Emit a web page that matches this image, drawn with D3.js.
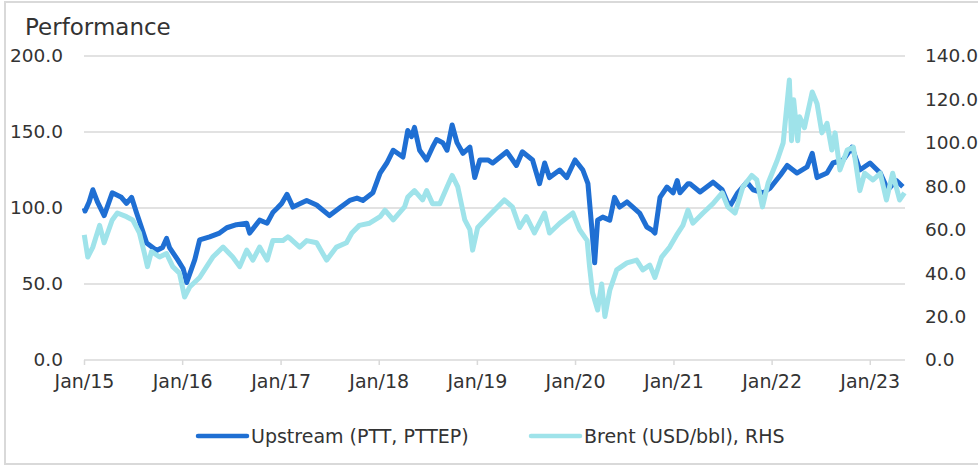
<!DOCTYPE html>
<html>
<head>
<meta charset="utf-8">
<script src="https://cdn.jsdelivr.net/npm/d3@7"></script>
<style>
    body { margin: 0; background: #fff; }
    #chart { width: 978px; height: 468px; }
    text { font-family: "DejaVu Sans", sans-serif; fill: #333; }
</style>
</head>
<body>
<div id="chart"></div>
<script>
var upstreamData = [
    ["2015-01-02", 100], ["2015-01-05", 98], ["2015-01-20", 104], ["2015-02-03", 112], ["2015-02-20", 104],
    ["2015-03-17", 95], ["2015-04-16", 110], ["2015-05-20", 107], ["2015-06-08", 103], ["2015-06-27", 107],
    ["2015-07-15", 97], ["2015-08-07", 85], ["2015-08-22", 77], ["2015-09-28", 72], ["2015-10-20", 74],
    ["2015-11-04", 80], ["2015-11-15", 74], ["2015-12-15", 66], ["2016-01-05", 60], ["2016-01-18", 51],
    ["2016-02-17", 66], ["2016-03-06", 79], ["2016-04-12", 81], ["2016-05-19", 83.5], ["2016-06-15", 87],
    ["2016-07-21", 89], ["2016-08-28", 90], ["2016-09-08", 83.5], ["2016-10-15", 92], ["2016-11-12", 90],
    ["2016-12-03", 97], ["2016-12-20", 100], ["2017-01-05", 103], ["2017-01-25", 109], ["2017-02-16", 100.6],
    ["2017-04-08", 105], ["2017-05-15", 102], ["2017-07-02", 95], ["2017-08-08", 100], ["2017-09-15", 105],
    ["2017-10-12", 106.5], ["2017-11-03", 105], ["2017-12-10", 110], ["2018-01-06", 123], ["2018-01-31", 129.6],
    ["2018-02-24", 138], ["2018-04-01", 133.5], ["2018-04-19", 151], ["2018-05-03", 147], ["2018-05-14", 153],
    ["2018-06-02", 138], ["2018-06-28", 131.6], ["2018-07-20", 140], ["2018-08-04", 145], ["2018-08-27", 143],
    ["2018-09-12", 138], ["2018-10-01", 154.6], ["2018-10-19", 143], ["2018-11-10", 136], ["2018-12-06", 140],
    ["2018-12-24", 120], ["2019-01-12", 131.6], ["2019-02-11", 131.6], ["2019-03-01", 129.6], ["2019-04-22", 137],
    ["2019-05-28", 128], ["2019-06-19", 137], ["2019-07-27", 131.6], ["2019-08-22", 116], ["2019-09-10", 129.6],
    ["2019-09-28", 120], ["2019-11-05", 125], ["2019-12-01", 120], ["2020-01-01", 131.6], ["2020-01-30", 125],
    ["2020-02-18", 116], ["2020-03-03", 87.5], ["2020-03-14", 64], ["2020-03-25", 92], ["2020-04-13", 94],
    ["2020-05-09", 92], ["2020-05-27", 107], ["2020-06-15", 100.6], ["2020-07-12", 104], ["2020-08-03", 100.6],
    ["2020-08-28", 96.7], ["2020-09-24", 87.5], ["2020-10-13", 85.5], ["2020-10-24", 83.5], ["2020-11-12", 107],
    ["2020-12-08", 113.8], ["2020-12-31", 110], ["2021-01-15", 118], ["2021-01-25", 110], ["2021-02-24", 116],
    ["2021-03-03", 116], ["2021-04-10", 110.5], ["2021-05-28", 117], ["2021-07-01", 112], ["2021-07-28", 100.6],
    ["2021-08-28", 110], ["2021-10-01", 117], ["2021-10-24", 112], ["2021-12-01", 110], ["2021-12-26", 113],
    ["2022-02-03", 121.7], ["2022-02-28", 128], ["2022-04-05", 123], ["2022-05-13", 127], ["2022-06-01", 136],
    ["2022-06-19", 120], ["2022-07-26", 123], ["2022-08-17", 129.6], ["2022-09-24", 131.6], ["2022-10-27", 140],
    ["2022-11-25", 125], ["2023-01-02", 129.6], ["2023-02-09", 123], ["2023-03-09", 112], ["2023-04-10", 118],
    ["2023-05-04", 114]
];

var brentData = [
    ["2015-01-02", 57.6], ["2015-01-15", 47.4], ["2015-02-03", 52], ["2015-02-28", 62], ["2015-03-17", 54],
    ["2015-04-16", 64.5], ["2015-05-05", 67.7], ["2015-06-08", 66], ["2015-07-01", 64.5], ["2015-07-26", 58.5],
    ["2015-08-14", 49], ["2015-08-25", 43], ["2015-09-09", 50], ["2015-10-09", 47.4], ["2015-11-04", 49],
    ["2015-11-27", 43], ["2015-12-22", 40], ["2016-01-10", 29], ["2016-01-29", 33.6], ["2016-03-06", 38],
    ["2016-04-01", 43], ["2016-04-24", 47.4], ["2016-06-01", 52], ["2016-07-07", 47.4], ["2016-08-02", 43],
    ["2016-08-28", 50.6], ["2016-09-20", 46], ["2016-10-15", 52], ["2016-11-12", 46], ["2016-12-03", 55],
    ["2017-01-10", 55], ["2017-01-28", 56.7], ["2017-02-05", 56], ["2017-03-13", 52], ["2017-04-08", 55],
    ["2017-05-15", 54], ["2017-06-21", 46], ["2017-07-28", 52], ["2017-09-03", 54], ["2017-09-23", 58.5],
    ["2017-10-21", 62], ["2017-11-28", 63], ["2018-01-06", 66], ["2018-01-24", 69], ["2018-02-24", 64.5],
    ["2018-04-07", 70.5], ["2018-04-19", 75], ["2018-05-14", 78], ["2018-06-13", 73.7], ["2018-06-28", 78],
    ["2018-07-20", 72], ["2018-08-16", 72], ["2018-09-12", 79.7], ["2018-10-01", 85], ["2018-10-22", 79.7],
    ["2018-11-17", 64.5], ["2018-12-06", 60], ["2018-12-16", 50.6], ["2019-01-04", 61], ["2019-02-11", 66],
    ["2019-04-13", 73.7], ["2019-05-13", 70.5], ["2019-06-09", 61], ["2019-07-04", 66], ["2019-08-03", 58.5],
    ["2019-09-10", 67.7], ["2019-09-28", 58.5], ["2019-11-05", 63], ["2019-12-24", 67.7], ["2020-01-18", 60],
    ["2020-02-15", 55], ["2020-02-24", 43], ["2020-03-06", 31], ["2020-03-25", 23], ["2020-04-09", 35],
    ["2020-04-21", 20], ["2020-05-09", 32], ["2020-06-04", 41.5], ["2020-07-12", 44.7], ["2020-08-17", 46],
    ["2020-09-09", 41.5], ["2020-10-05", 43.7], ["2020-10-24", 38], ["2020-11-18", 47.4], ["2020-12-18", 52],
    ["2021-01-15", 58], ["2021-02-05", 62], ["2021-02-24", 69], ["2021-03-14", 63], ["2021-04-21", 67.7],
    ["2021-05-28", 72], ["2021-07-01", 77], ["2021-07-22", 70.5], ["2021-08-18", 67.7], ["2021-09-16", 79.7],
    ["2021-10-19", 85], ["2021-11-07", 82.9], ["2021-11-28", 70.5], ["2021-12-19", 81.5], ["2022-01-22", 92],
    ["2022-02-13", 100], ["2022-03-08", 129], ["2022-03-16", 101], ["2022-03-24", 119.8], ["2022-04-08", 101],
    ["2022-04-15", 112], ["2022-05-03", 107], ["2022-06-01", 123.4], ["2022-06-19", 118], ["2022-07-07", 104.6],
    ["2022-07-26", 109], ["2022-08-13", 96.7], ["2022-08-25", 104.6], ["2022-09-12", 87.5], ["2022-10-09", 96.7],
    ["2022-11-01", 98], ["2022-11-25", 78], ["2022-12-13", 86], ["2023-01-13", 82.9], ["2023-02-09", 86],
    ["2023-03-04", 73.7], ["2023-03-27", 86], ["2023-04-22", 73.7], ["2023-05-10", 77]
];

var leftTicks = [0, 50, 100, 150, 200];
var rightTicks = [0, 20, 40, 60, 80, 100, 120, 140];
var xTickYears = [2015, 2016, 2017, 2018, 2019, 2020, 2021, 2022, 2023];
var seriesNames = ["Upstream (PTT, PTTEP)", "Brent (USD/bbl), RHS"];
var seriesColors = ["#1f6fd3", "#9fe3ea"];

var W = 978, H = 468;
var margin = {top: 56, right: 73, bottom: 108, left: 84};
var width = W - margin.left - margin.right;
var height = H - margin.top - margin.bottom;
var parseDate = d3.timeParse("%Y-%m-%d");
var formatTick = d3.timeFormat("%b/%y");

var svg = d3.select("#chart")
    .append("svg")
    .attr("width", W)
    .attr("height", H);

// outer frame
svg.append("rect")
    .attr("x", 5)
    .attr("y", 2)
    .attr("width", W + 10)
    .attr("height", 462)
    .attr("fill", "none")
    .attr("stroke", "#d9d9d9")
    .attr("stroke-width", 2);

svg.append("text")
    .attr("x", 25)
    .attr("y", 35)
    .style("font-size", "23px")
    .text("Performance");

var g = svg.append("g")
    .attr("transform", "translate(" + margin.left + "," + margin.top + ")");

var xScale = d3.scaleTime()
    .domain([new Date(2015, 0, 1), new Date(2023, 4, 12)])
    .range([0, width]);
var yLeft = d3.scaleLinear().domain([0, 200]).range([height, 0]);
var yRight = d3.scaleLinear().domain([0, 140]).range([height, 0]);

// gridlines
g.append("g")
    .selectAll("line")
    .data(leftTicks)
    .enter().append("line")
    .attr("x1", 0)
    .attr("x2", width)
    .attr("y1", function(d) { return yLeft(d); })
    .attr("y2", function(d) { return yLeft(d); })
    .attr("stroke", "#d9d9d9")
    .attr("stroke-width", 1.5);

var xAxis = d3.axisBottom(xScale)
    .tickValues(xTickYears.map(function(y) { return new Date(y, 0, 1); }))
    .tickFormat(formatTick)
    .tickSize(5)
    .tickPadding(10);

var gX = g.append("g")
    .attr("transform", "translate(0," + height + ")")
    .call(xAxis);
gX.select(".domain").remove();
gX.selectAll(".tick line").attr("stroke", "#d9d9d9").attr("stroke-width", 1.5);
gX.selectAll("text")
    .style("font-size", "19px")
    .attr("fill", "#333")
    .attr("font-family", null);

var yAxisL = d3.axisLeft(yLeft)
    .tickValues(leftTicks)
    .tickFormat(d3.format(".1f"))
    .tickSize(0)
    .tickPadding(21);
var gYL = g.append("g").call(yAxisL);
gYL.select(".domain").remove();
gYL.selectAll("text").style("font-size", "18.5px").attr("fill", "#333").attr("font-family", null);

var yAxisR = d3.axisRight(yRight)
    .tickValues(rightTicks)
    .tickFormat(d3.format(".1f"))
    .tickSize(0)
    .tickPadding(20);
var gYR = g.append("g")
    .attr("transform", "translate(" + width + ",0)")
    .call(yAxisR);
gYR.select(".domain").remove();
gYR.selectAll("text").style("font-size", "18.5px").attr("fill", "#333").attr("font-family", null);

function toPoints(arr) {
    return arr.map(function(d) { return {date: parseDate(d[0]), value: d[1]}; });
}

var lineLeft = d3.line()
    .x(function(d) { return xScale(d.date); })
    .y(function(d) { return yLeft(d.value); });
var lineRight = d3.line()
    .x(function(d) { return xScale(d.date); })
    .y(function(d) { return yRight(d.value); });

g.append("path")
    .datum(toPoints(upstreamData))
    .attr("fill", "none")
    .attr("stroke", seriesColors[0])
    .attr("stroke-width", 5)
    .attr("stroke-linejoin", "round")
    .attr("d", lineLeft);

g.append("path")
    .datum(toPoints(brentData))
    .attr("fill", "none")
    .attr("stroke", seriesColors[1])
    .attr("stroke-width", 5)
    .attr("stroke-linejoin", "round")
    .attr("d", lineRight);

// legend
var legendX = [198, 531];
var legend = svg.append("g");
seriesNames.forEach(function(name, i) {
    legend.append("line")
        .attr("x1", legendX[i])
        .attr("x2", legendX[i] + 49)
        .attr("y1", 436)
        .attr("y2", 436)
        .attr("stroke", seriesColors[i])
        .attr("stroke-width", 4.5)
        .attr("stroke-linecap", "round");
    legend.append("text")
        .attr("x", legendX[i] + 53)
        .attr("y", 436)
        .attr("dy", "0.35em")
        .style("font-size", "19px")
        .text(name);
});
</script>
</body>
</html>
